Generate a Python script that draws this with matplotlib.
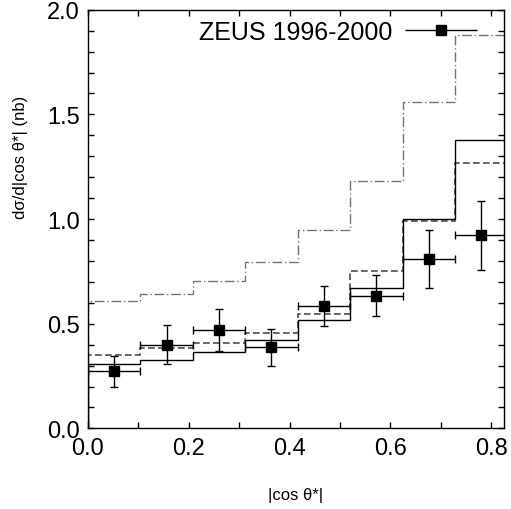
import matplotlib
matplotlib.use('Agg')
import matplotlib.pyplot as plt
from matplotlib.ticker import MultipleLocator
from matplotlib.legend_handler import HandlerErrorbar

plt.rcParams['font.family'] = ['Liberation Sans', 'DejaVu Sans']

# bins in |cos theta*|
bin_edges = [0.0, 0.104, 0.208, 0.312, 0.416, 0.52, 0.624, 0.728, 0.832]
bin_centres = [0.052, 0.156, 0.26, 0.364, 0.468, 0.572, 0.676, 0.78]
bin_halfwidth = [0.052] * 8

# ZEUS data points
data_y = [0.275, 0.398, 0.469, 0.387, 0.583, 0.633, 0.808, 0.923]
err_up = [0.072, 0.094, 0.102, 0.089, 0.095, 0.099, 0.138, 0.161]
err_down = [0.075, 0.091, 0.101, 0.089, 0.093, 0.095, 0.135, 0.168]

# predictions
solid_curve = [0.31, 0.326, 0.366, 0.423, 0.517, 0.669, 0.998, 1.377]
dashed_curve = [0.35, 0.382, 0.406, 0.455, 0.546, 0.751, 0.99, 1.268]
dashdot_curve = [0.61, 0.641, 0.702, 0.796, 0.949, 1.183, 1.558, 1.878]

fig = plt.figure(figsize=(5.11, 5.10), dpi=100)
ax = fig.add_axes([0.172, 0.158, 0.814, 0.821])

ax.stairs(dashdot_curve, bin_edges, color='0.45', lw=1.0, linestyle=(0, (7, 2, 1, 2)))
ax.stairs(dashed_curve, bin_edges, color='0.3', lw=1.2, linestyle=(0, (4, 2)))
ax.stairs(solid_curve, bin_edges, color='black', lw=1.0)

pts = ax.errorbar(bin_centres, data_y, yerr=[err_down, err_up], xerr=bin_halfwidth,
                  fmt='s', color='black', ms=7.5, lw=1.0, capsize=3, capthick=1.0)

# legend entry: marker with horizontal bar only
proxy = ax.errorbar([], [], xerr=[], fmt='s', color='black', ms=7.5, lw=1.0,
                    capsize=3, capthick=1.0)
ax.legend([proxy], ['ZEUS 1996-2000'], loc='upper right', bbox_to_anchor=(0.99, 1.03),
          frameon=False, markerfirst=False, fontsize=18, handlelength=2.9,
          handletextpad=0.5, handler_map={type(proxy): HandlerErrorbar(xerr_size=1.45)})

ax.set_xlim(0, 0.825)
ax.set_ylim(0, 2.0)
ax.xaxis.set_major_locator(MultipleLocator(0.2))
ax.xaxis.set_minor_locator(MultipleLocator(0.1))
ax.yaxis.set_major_locator(MultipleLocator(0.5))
ax.yaxis.set_minor_locator(MultipleLocator(0.1))
ax.xaxis.set_major_formatter(lambda v, p: f'{v:.1f}')
ax.yaxis.set_major_formatter(lambda v, p: f'{v:.1f}')
ax.tick_params(which='both', direction='in', top=True, right=True, length=4.5, width=1.0)
ax.tick_params(which='major', labelsize=17, pad=6)
for s in ax.spines.values():
    s.set_linewidth(1.0)

ax.set_xlabel('|cos θ*|', fontsize=12)
ax.xaxis.set_label_coords(0.5, -0.14)
ax.set_ylabel('dσ/d|cos θ*| (nb)', fontsize=12)
ax.yaxis.set_label_coords(-0.145, 0.65)

fig.savefig('out.png', dpi=100)
